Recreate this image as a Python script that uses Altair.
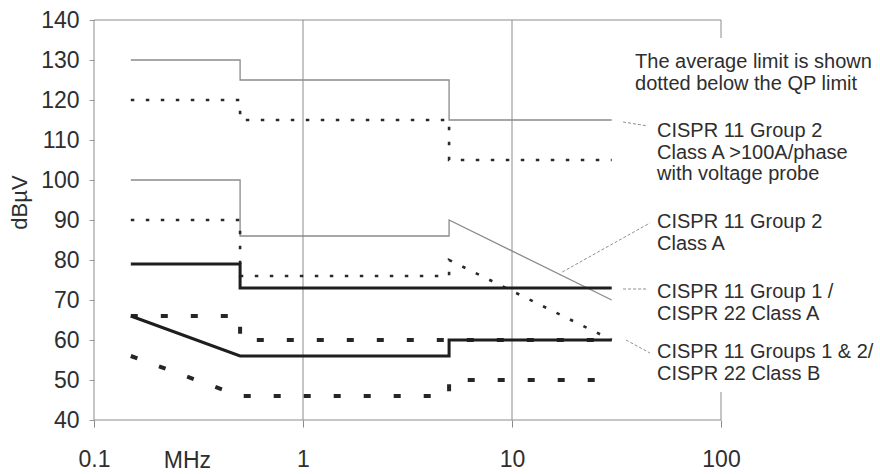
import altair as alt
import pandas as pd

# Frequency breakpoints (MHz) shared by every limit line
freq = [0.15, 0.5, 0.5, 5, 5, 30]

# Conducted emission limits in dBµV (QP = quasi-peak, AV = average)
g2_probe_qp = [130, 130, 125, 125, 115, 115]
g2_probe_av = [120, 120, 115, 115, 105, 105]
g2_qp = [100, 100, 86, 86, 90, 70]
g2_av = [90, 90, 76, 76, 80, 60]
g1_qp = [79, 79, 73, 73, 73, 73]
g1_av = [66, 66, 60, 60, 60, 60]
b_qp = [66, 56, 56, 56, 60, 60]
b_av = [56, 46, 46, 46, 50, 50]

series = [
    ("g2_probe_qp", "thin", g2_probe_qp),
    ("g2_qp", "thin", g2_qp),
    ("g2_probe_av", "dotted", g2_probe_av),
    ("g2_av", "dotted", g2_av),
    ("g1_av", "dashed", g1_av),
    ("b_av", "dashed", b_av),
    ("g1_qp", "thick", g1_qp),
    ("b_qp", "thick", b_qp),
]

rows = []
for name, style, values in series:
    for i, (f, v) in enumerate(zip(freq, values)):
        rows.append({"series": name, "style": style, "idx": i, "freq": f, "db": v})
lines = pd.DataFrame(rows)

# Frame and grid segments: (x0, x1, y0, y1)
frame = pd.DataFrame({
    "x0": [0.1, 0.1, 0.1, 1, 10, 100, 100],
    "x1": [100, 100, 0.1, 1, 10, 100, 100],
    "y0": [140, 40, 40, 40, 40, 135.5, 40],
    "y1": [140, 40, 140, 140, 140, 140, 47],
})

# Leader lines from curves to their captions
leaders = pd.DataFrame({
    "x0": [34.0, 17.4, 34.0, 35.1],
    "x1": [44.7, 45.7, 44.4, 45.7],
    "y0": [114.5, 77.0, 72.75, 60.0],
    "y1": [113.5, 89.25, 72.75, 56.75],
})

captions = pd.DataFrame({
    "freq": [38.8, 49.4, 49.4, 49.4, 49.4],
    "db": [128.0, 110.75, 88.0, 70.5, 55.5],
    "text": [
        "The average limit is shown\ndotted below the QP limit",
        "CISPR 11 Group 2\nClass A >100A/phase\nwith voltage probe",
        "CISPR 11 Group 2\nClass A",
        "CISPR 11 Group 1 /\nCISPR 22 Class A",
        "CISPR 11 Groups 1 & 2/\nCISPR 22 Class B",
    ],
})

unit = pd.DataFrame({"freq": [0.28], "db": [28.0], "text": ["MHz"]})

FONT = "Liberation Sans"
TEXT = "#2e2e2e"

xscale = alt.Scale(type="log", domain=[0.1, 100], nice=False)
yscale = alt.Scale(domain=[40, 140], nice=False, zero=False)

xaxis = alt.Axis(
    values=[0.1, 1, 10, 100], labelExpr="format(datum.value, '~g')",
    grid=False, domain=False, tickSize=7, tickColor="#8a8a8a",
    labelFont=FONT, labelFontSize=23, labelColor=TEXT, labelPadding=21,
    labelFlush=False, labelOverlap=False, title=None,
)
yaxis = alt.Axis(
    values=list(range(40, 141, 10)), grid=False, domain=False,
    tickSize=5, tickColor="#9a9a9a",
    labelFont=FONT, labelFontSize=23, labelColor=TEXT, labelPadding=10,
    labelFlush=False, labelOverlap=False,
    title="dBµV", titleFont=FONT, titleFontSize=22, titleFontWeight="normal",
    titleColor=TEXT, titleAngle=270, titleAlign="center", titleBaseline="middle",
    titleX=-75, titleY=182,
)


def X(field):
    return alt.X(field, type="quantitative", scale=xscale, axis=xaxis)


def Y(field):
    return alt.Y(field, type="quantitative", scale=yscale, axis=yaxis)


frame_layer = alt.Chart(frame).mark_rule(color="#8c8c8c", strokeWidth=1).encode(
    x=X("x0"), x2="x1", y=Y("y0"), y2="y1"
)


def limit_layer(style, **mark):
    return alt.Chart(lines).transform_filter(
        alt.datum.style == style
    ).mark_line(**mark).encode(
        x=X("freq"), y=Y("db"), detail="series:N", order="idx:Q"
    )


thin = limit_layer("thin", color="#8a8a8a", strokeWidth=1.3)
dotted = limit_layer("dotted", color="#2a2a2a", strokeWidth=2.6, strokeDash=[3.5, 11.5])
dashed = limit_layer("dashed", color="#262626", strokeWidth=4, strokeDash=[7, 23])
thick = limit_layer("thick", color="#1e1e1e", strokeWidth=3)

leader_layer = alt.Chart(leaders).mark_rule(
    color="#8f8f8f", strokeWidth=1, strokeDash=[3, 2]
).encode(x=X("x0"), x2="x1", y=Y("y0"), y2="y1")

caption_layer = alt.Chart(captions).mark_text(
    align="left", baseline="alphabetic", lineBreak="\n", lineHeight=21.5,
    font=FONT, fontSize=20, color=TEXT,
).encode(x=X("freq"), y=Y("db"), text="text:N")

unit_layer = alt.Chart(unit).mark_text(
    align="center", baseline="alphabetic", font=FONT, fontSize=23, color=TEXT,
).encode(x=X("freq"), y=Y("db"), text="text:N")

chart = alt.layer(
    frame_layer, thin, dotted, dashed, thick, leader_layer, caption_layer, unit_layer
).properties(
    width=627, height=400,
    padding={"left": 94, "top": 20, "right": 159, "bottom": 54},
    autosize=alt.AutoSizeParams(type="none"),
    background="white",
).configure_view(stroke=None)

chart.save("out.html", embed_options={"renderer": "svg", "actions": False})
